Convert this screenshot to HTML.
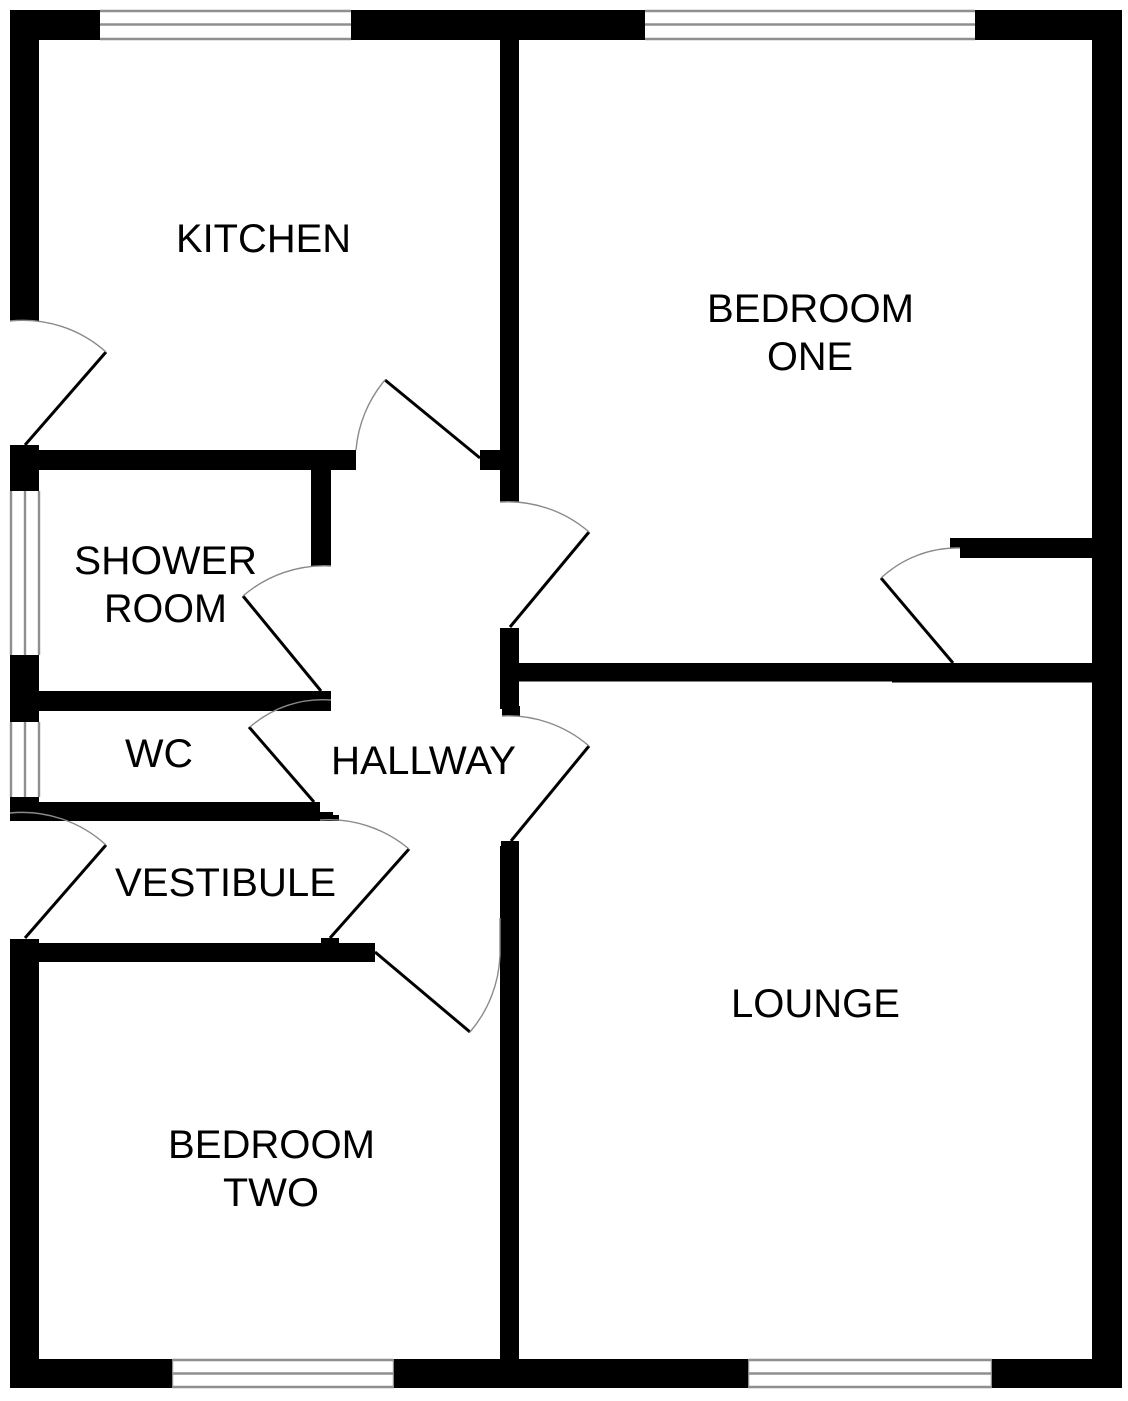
<!DOCTYPE html>
<html>
<head>
<meta charset="utf-8">
<style>
html,body{margin:0;padding:0;background:#fff}
svg{display:block}
text{font-family:"Liberation Sans",sans-serif;font-size:40px;fill:#000}
</style>
</head>
<body>
<svg width="1128" height="1401" viewBox="0 0 1128 1401" xmlns="http://www.w3.org/2000/svg">
<rect width="1128" height="1401" fill="#fff"/>
<!-- windows -->
<g stroke="#8f8f8f" stroke-width="2.4" fill="none">
<path d="M100 11H351M100 24.5H351M100 39H351"/>
<path d="M645 11H975M645 24.5H975M645 39H975"/>
<path d="M172 1360H394M172 1373.5H394M172 1387H394M172 1360V1387M394 1360V1387"/>
<path d="M748 1360H992M748 1373.5H992M748 1387H992M748 1360V1387M992 1360V1387"/>
<path d="M11 491V655M25 491V655M39 491V655"/>
<path d="M11 722V797M25 722V797M39 722V797"/>
</g>
<!-- walls -->
<g fill="#000">
<rect x="10" y="10" width="90" height="30"/>
<rect x="351" y="10" width="294" height="30"/>
<rect x="975" y="10" width="147" height="30"/>
<rect x="1092" y="10" width="30" height="1378"/>
<rect x="10" y="1359" width="162" height="29"/>
<rect x="394" y="1359" width="354" height="29"/>
<rect x="992" y="1359" width="130" height="29"/>
<rect x="10" y="10" width="29" height="311"/>
<rect x="10" y="445" width="29" height="46"/>
<rect x="10" y="655" width="29" height="67"/>
<rect x="10" y="797" width="29" height="24"/>
<rect x="10" y="939" width="29" height="449"/>
<rect x="39" y="450" width="317" height="20"/>
<rect x="311" y="470" width="20" height="96"/>
<rect x="39" y="691" width="292" height="20"/>
<rect x="10" y="802" width="310" height="19"/>
<rect x="320" y="812" width="13" height="9"/>
<rect x="320" y="815" width="19" height="6"/>
<rect x="39" y="943" width="336" height="19"/>
<rect x="321" y="938" width="18" height="6"/>
<rect x="500" y="40" width="19" height="462"/>
<rect x="480" y="450" width="20" height="20"/>
<rect x="500" y="628" width="19" height="81"/>
<rect x="502" y="706" width="18" height="10"/>
<rect x="519" y="663" width="573" height="18.5"/>
<rect x="892" y="680" width="200" height="2.5"/>
<rect x="500" y="846" width="19" height="513"/>
<rect x="501" y="841" width="18" height="6"/>
<rect x="960" y="538" width="132" height="20"/>
<rect x="950" y="538" width="10" height="10"/>
</g>
<!-- door leaves -->
<g stroke="#000" stroke-width="3" fill="none">
<path d="M25 445L106 352"/>
<path d="M385 380L480 458"/>
<path d="M510 627L589 532"/>
<path d="M953 663L881 578"/>
<path d="M321 691L243 596"/>
<path d="M314 802L249 727"/>
<path d="M25 938L106 845"/>
<path d="M330 938L409 849"/>
<path d="M375 952L470 1032"/>
<path d="M511 841L589 746"/>
</g>
<!-- door arcs -->
<g stroke="#8a8a8a" stroke-width="1.4" fill="none">
<path d="M10 321A124 124 0 0 1 106 352"/>
<path d="M356 450A124 124 0 0 1 385 380"/>
<path d="M500 502A124 124 0 0 1 589 532"/>
<path d="M881 578A112 112 0 0 1 960 548"/>
<path d="M331 566A124 124 0 0 0 243 596"/>
<path d="M331 700A110 110 0 0 0 250 727"/>
<path d="M10 813A124 124 0 0 1 106 845"/>
<path d="M320 820A124 124 0 0 1 409 849"/>
<path d="M470 1032A125 125 0 0 0 500 955L500 918"/>
<path d="M502 716A124 124 0 0 1 589 746"/>
</g>
<!-- labels -->
<text x="176" y="252" textLength="175" lengthAdjust="spacingAndGlyphs">KITCHEN</text>
<text x="707" y="322" textLength="207" lengthAdjust="spacingAndGlyphs">BEDROOM</text>
<text x="767" y="370" textLength="86" lengthAdjust="spacingAndGlyphs">ONE</text>
<text x="74" y="574" textLength="183" lengthAdjust="spacingAndGlyphs">SHOWER</text>
<text x="104" y="622" textLength="123" lengthAdjust="spacingAndGlyphs">ROOM</text>
<text x="125" y="767" textLength="68" lengthAdjust="spacingAndGlyphs">WC</text>
<text x="331" y="774" textLength="185" lengthAdjust="spacingAndGlyphs">HALLWAY</text>
<text x="115" y="896" textLength="221" lengthAdjust="spacingAndGlyphs">VESTIBULE</text>
<text x="731" y="1017" textLength="169" lengthAdjust="spacingAndGlyphs">LOUNGE</text>
<text x="168" y="1158" textLength="207" lengthAdjust="spacingAndGlyphs">BEDROOM</text>
<text x="223" y="1206" textLength="96" lengthAdjust="spacingAndGlyphs">TWO</text>
</svg>
</body>
</html>
